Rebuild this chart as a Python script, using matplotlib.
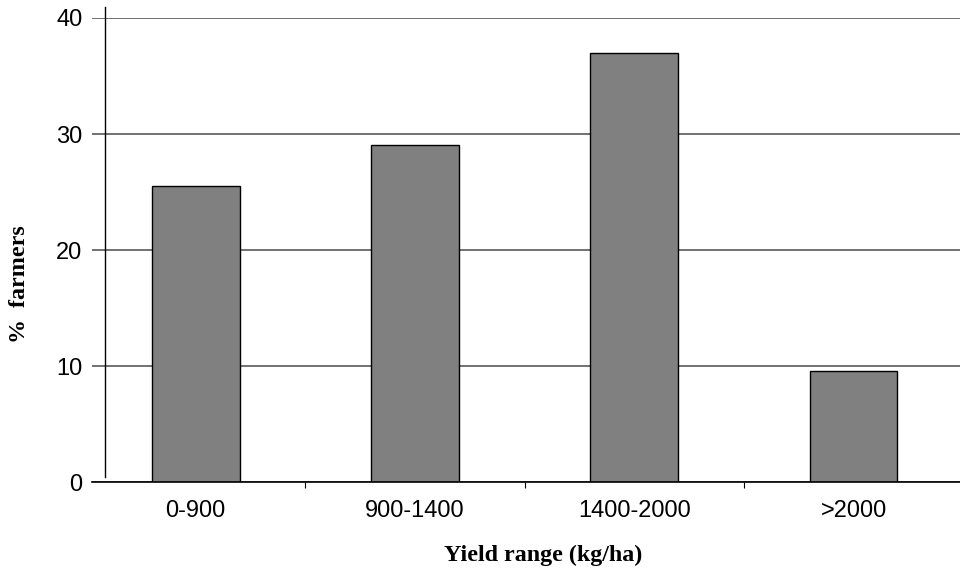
import numpy as np
import matplotlib
matplotlib.use("Agg")
import matplotlib.pyplot as plt
from matplotlib.lines import Line2D

# data
categories = ["0-900", "900-1400", "1400-2000", ">2000"]
farmers_pct = [25.5, 29.1, 37.0, 9.6]
y_ticks = [0, 10, 20, 30, 40]

W, H = 960, 569
fig = plt.figure(figsize=(W / 100, H / 100), dpi=100)
ax = fig.add_axes([92 / W, (H - 482.3) / H, 868 / W, (482.3 - 18) / H])

x = np.arange(len(categories))
ax.bar(x, farmers_pct, width=0.40, color="#808080", edgecolor="black",
       linewidth=1.0, zorder=3)

ax.set_xlim(-0.473, 3.485)
ax.set_ylim(0, 40)
ax.set_yticks(y_ticks)
ax.set_yticklabels([str(t) for t in y_ticks], family="Liberation Sans", fontsize=17)
ax.grid(axis="y", color="#4a4a4a", linewidth=1.1, zorder=1)
ax.grid(axis="x", visible=False)

ax.set_xticks(x)
ax.set_xticklabels(categories, family="Liberation Sans", fontsize=17)
ax.set_xticks(x[:-1] + 0.5, minor=True)
ax.tick_params(axis="x", which="major", length=0, pad=13)
ax.tick_params(axis="x", which="minor", length=4, width=0.8, direction="out")
ax.tick_params(axis="y", length=0, pad=7)

for side in ["top", "right", "left"]:
    ax.spines[side].set_visible(False)
ax.spines["bottom"].set_linewidth(1.2)
ax.spines["bottom"].set_zorder(4)

# the value axis line sits a little inside the plot area and stops short of 0
ax.add_line(Line2D([13 / 868, 13 / 868], [0.011, 1.024], transform=ax.transAxes,
                   color="black", linewidth=1.0, clip_on=False, zorder=4))

fig.text(543 / W, 1 - 555 / H, "Yield range (kg/ha)", ha="center", va="center",
         family="Liberation Serif", weight="bold", fontsize=17.3)
fig.text(20 / W, 1 - 284 / H, "%  farmers", ha="center", va="center", rotation=90,
         family="Liberation Serif", weight="bold", fontsize=17.3)

fig.savefig("out.png", dpi=100)
